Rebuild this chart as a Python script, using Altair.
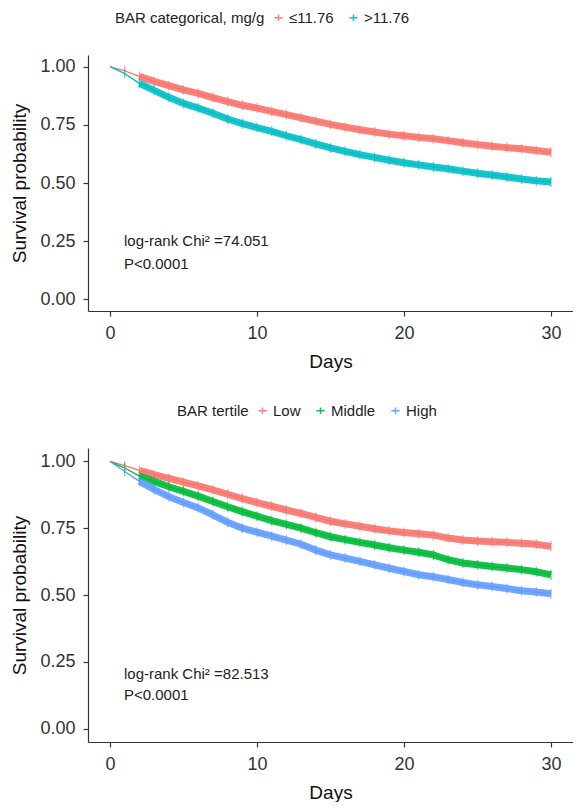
import altair as alt
import pandas as pd

# ---------------- data ----------------
days = list(range(31))

top_title = "BAR categorical, mg/g"
top_groups = ["≤11.76", ">11.76"]
top_colors = ["#F8766D", "#00BFC4"]
top_low = [1.00, 0.982, 0.958, 0.937, 0.918, 0.900, 0.885, 0.867, 0.850, 0.834, 0.822,
           0.808, 0.794, 0.780, 0.766, 0.752, 0.740, 0.729, 0.719, 0.710, 0.703,
           0.696, 0.690, 0.682, 0.673, 0.665, 0.658, 0.652, 0.647, 0.640, 0.632]
top_high = [1.00, 0.970, 0.928, 0.898, 0.868, 0.842, 0.822, 0.800, 0.775, 0.755, 0.738,
            0.722, 0.703, 0.686, 0.668, 0.651, 0.636, 0.622, 0.610, 0.598, 0.587,
            0.578, 0.569, 0.561, 0.551, 0.542, 0.534, 0.526, 0.517, 0.510, 0.504]
top_note = ["log-rank Chi² =74.051", "P<0.0001"]
top_note_y = [0.25, 0.152]

bot_title = "BAR tertile"
bot_groups = ["Low", "Middle", "High"]
bot_colors = ["#F8766D", "#00BA38", "#619CFF"]
bot_low = [1.00, 0.984, 0.966, 0.950, 0.936, 0.922, 0.908, 0.893, 0.877, 0.861, 0.846,
           0.832, 0.818, 0.805, 0.790, 0.776, 0.766, 0.757, 0.748, 0.740, 0.734,
           0.729, 0.724, 0.713, 0.706, 0.702, 0.699, 0.697, 0.694, 0.690, 0.682]
bot_mid = [1.00, 0.975, 0.945, 0.925, 0.905, 0.888, 0.870, 0.850, 0.830, 0.812, 0.795,
           0.778, 0.764, 0.750, 0.733, 0.718, 0.707, 0.697, 0.687, 0.677, 0.668,
           0.660, 0.650, 0.632, 0.620, 0.613, 0.607, 0.601, 0.595, 0.587, 0.575]
bot_high = [1.00, 0.962, 0.925, 0.895, 0.868, 0.846, 0.826, 0.800, 0.772, 0.750, 0.735,
            0.720, 0.705, 0.690, 0.668, 0.650, 0.638, 0.626, 0.613, 0.600, 0.588,
            0.576, 0.568, 0.558, 0.547, 0.538, 0.532, 0.524, 0.516, 0.511, 0.505]
bot_note = ["log-rank Chi² =82.513", "P<0.0001"]
bot_note_y = [0.205, 0.125]

x_ticks = [0, 10, 20, 30]
y_ticks = [0.0, 0.25, 0.50, 0.75, 1.00]

FONT = "Liberation Sans"
PLUS = "M-1,0L1,0M0,-0.75L0,0.75"


def panel(groups, colors, series, title, notes, note_y, height, lx):
    rows = []
    for g, vals in zip(groups, series):
        for d, v in zip(days, vals):
            rows.append({"day": d, "surv": v, "group": g})
    df = pd.DataFrame(rows)
    notes_df = pd.DataFrame({"day": [0.95] * len(notes), "surv": note_y, "txt": notes})

    x = alt.X("day:Q", title="Days",
              scale=alt.Scale(domain=[-1.5, 31.5], nice=False, zero=False),
              axis=alt.Axis(values=x_ticks, format="d"))
    y = alt.Y("surv:Q", title="Survival probability",
              scale=alt.Scale(domain=[-0.05, 1.05], nice=False, zero=False),
              axis=alt.Axis(values=y_ticks, format=".2f"))
    color = alt.Color(
        "group:N", sort=groups,
        scale=alt.Scale(domain=groups, range=colors),
        legend=alt.Legend(
            title=title, orient="none", legendX=lx, legendY=-45,
            direction="horizontal", titleOrient="left",
            symbolType=PLUS, symbolSize=70, symbolStrokeWidth=1.5,
            symbolFillColor="transparent",
            labelFontSize=15, titleFontSize=15, titleFontWeight="normal",
            titleColor="#222222", labelColor="#222222",
            labelFont=FONT, titleFont=FONT, columnPadding=12,
            labelOffset=3, titlePadding=6,
        ),
    )
    base = alt.Chart(df).encode(x=x, y=y, color=color, detail="group:N")
    thin = base.mark_line(strokeWidth=1.3, interpolate="linear")
    band = base.transform_filter("datum.day >= 2").mark_line(
        strokeWidth=7, interpolate="linear", opacity=0.9)
    ticks = base.transform_filter("datum.day > 0").mark_tick(
        orient="vertical", size=10, thickness=1.2)
    text = alt.Chart(notes_df).mark_text(
        align="left", baseline="middle", fontSize=15, font=FONT, color="#222222"
    ).encode(x="day:Q", y="surv:Q", text="txt:N")
    return alt.layer(band, thin, ticks, text).properties(width=485, height=height)


top = panel(top_groups, top_colors, [top_low, top_high], top_title,
            top_note, top_note_y, 256, 27)
bottom = panel(bot_groups, bot_colors, [bot_low, bot_mid, bot_high], bot_title,
               bot_note, bot_note_y, 294, 89)

chart = alt.vconcat(top, bottom, spacing=32).resolve_scale(color="independent").configure(
    font=FONT,
    padding={"left": 2, "top": 2, "right": 0, "bottom": 0},
).configure_view(stroke=None).configure_axis(
    grid=False, domainColor="#333333", domainWidth=1.2, tickColor="#333333",
    tickWidth=1.2, tickSize=5, labelColor="#333333", labelFontSize=18,
    titleFontSize=19, titleFontWeight="normal", titleColor="#111111",
    labelFont=FONT, titleFont=FONT, labelPadding=8, titlePadding=10,
)

chart.save("out.html", embed_options={"renderer": "svg", "actions": False})
